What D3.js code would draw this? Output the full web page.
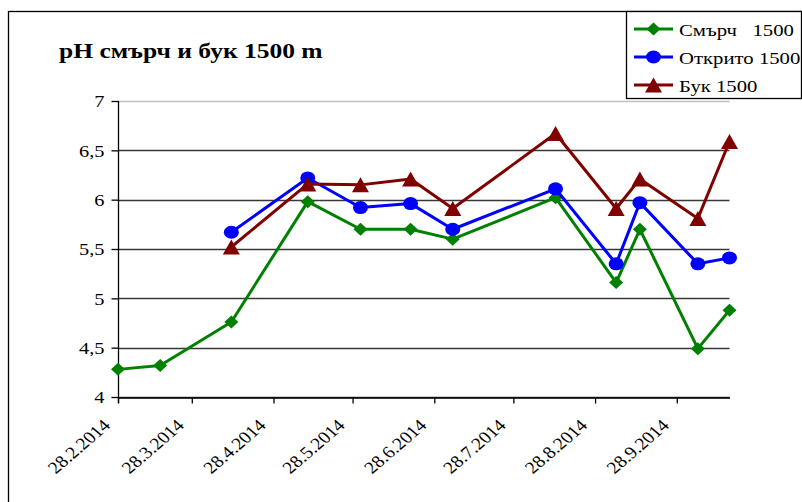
<!DOCTYPE html>
<html>
<head>
<meta charset="utf-8">
<script src="https://cdn.jsdelivr.net/npm/d3@7"></script>
<style>
body { margin: 0; background: #fff; }
text { font-family: "Times New Roman", Times, serif; fill: #000; }
</style>
</head>
<body>
<div id="chart"></div>
<script>
var dates = ["2014-02-28", "2014-03-16", "2014-04-12", "2014-05-11", "2014-05-31", "2014-06-19",
             "2014-07-05", "2014-08-13", "2014-09-05", "2014-09-14", "2014-10-06", "2014-10-18"];
var smarch = [4.28, 4.32, 4.76, 5.98, 5.70, 5.70, 5.60, 6.02, 5.16, 5.70, 4.49, 4.88];
var otkrito = [null, null, 5.67, 6.22, 5.92, 5.96, 5.70, 6.11, 5.35, 5.97, 5.35, 5.41];
var buk = [null, null, 5.52, 6.16, 6.15, 6.21, 5.91, 6.67, 5.91, 6.21, 5.81, 6.59];
var seriesNames = ["Смърч   1500", "Открито 1500", "Бук 1500"];
var tickDates = ["2014-02-28", "2014-03-28", "2014-04-28", "2014-05-28",
                 "2014-06-28", "2014-07-28", "2014-08-28", "2014-09-28"];
var yTicks = [4, 4.5, 5, 5.5, 6, 6.5, 7];
var title = "pH смърч и бук 1500 m";

var width = 802, height = 502,
    plot = {left: 118, right: 729.5, top: 101, bottom: 397},
    stretch = 1.2,   // the original picture is a bit wider than tall, text looks stretched
    font = "'Times New Roman', Times, serif";

var parse = d3.utcParse("%Y-%m-%d");

var svg = d3.select("#chart")
    .append("svg")
    .attr("width", width)
    .attr("height", height);

// outer chart frame (runs off the right and bottom edge)
svg.append("rect")
    .attr("x", 8.5).attr("y", 11.5)
    .attr("width", 900).attr("height", 600)
    .attr("fill", "#fff")
    .attr("stroke", "#000")
    .attr("stroke-width", 1.3);

var x = d3.scaleUtc()
    .domain([parse(dates[0]), parse(dates[dates.length - 1])])
    .range([plot.left, plot.right]);

var y = d3.scaleLinear()
    .domain([4, 7])
    .range([plot.bottom, plot.top]);

var fmtY = function (d) { return String(d).replace(".", ","); };

// gridlines
svg.append("g")
    .selectAll("line")
    .data(yTicks)
    .enter().append("line")
    .attr("x1", plot.left).attr("x2", plot.right)
    .attr("y1", function (d) { return Math.round(y(d)) + 0.5; })
    .attr("y2", function (d) { return Math.round(y(d)) + 0.5; })
    .attr("stroke", function (d) { return d === 7 ? "#c0c0c0" : "#383838"; })
    .attr("stroke-width", 1.6);

// y axis
var yAxis = svg.append("g")
    .attr("transform", "translate(" + (plot.left + 0.5) + ",0)")
    .call(d3.axisLeft(y).tickValues(yTicks).tickSize(7).tickSizeOuter(0).tickFormat(fmtY));
yAxis.select(".domain").attr("stroke", "#000").attr("stroke-width", 1.3)
    .attr("d", "M0," + plot.top + "V" + (plot.bottom + 6));
yAxis.selectAll(".tick line").attr("stroke", "#000").attr("stroke-width", 1.3);
yAxis.selectAll(".tick text")
    .attr("x", null).attr("dy", "0.34em")
    .attr("transform", "translate(-14,0) scale(" + stretch + ",1)")
    .style("font-family", font)
    .style("font-size", "17px");

// x axis
var xAxis = svg.append("g")
    .attr("transform", "translate(0," + (plot.bottom + 0.5) + ")")
    .call(d3.axisBottom(x).tickValues(tickDates.map(parse)).tickSize(6).tickSizeOuter(0)
        .tickFormat(d3.utcFormat("%-d.%-m.%Y")));
xAxis.select(".domain").attr("stroke", "#000").attr("stroke-width", 1.3);
xAxis.selectAll(".tick line").attr("stroke", "#000").attr("stroke-width", 1.3);
xAxis.selectAll(".tick text")
    .attr("y", null).attr("dy", null)
    .attr("text-anchor", "end")
    .attr("transform", "translate(-7,29) scale(1.16,1) rotate(-45)")
    .style("font-family", font)
    .style("font-size", "17px");

// series
var markers = {
    diamond: "M0,-6.5L7,0L0,6.5L-7,0Z",
    triangle: "M0,-7.5L8.5,7.5L-8.5,7.5Z"
};
var series = [
    {name: seriesNames[0], values: smarch, color: "#008000", marker: "diamond"},
    {name: seriesNames[1], values: otkrito, color: "#0000ff", marker: "circle"},
    {name: seriesNames[2], values: buk, color: "#800000", marker: "triangle"}
];

function drawMarker(g, kind, color) {
    if (kind === "circle") {
        g.append("ellipse").attr("rx", 7.5).attr("ry", 6.5).attr("fill", color);
    } else {
        g.append("path").attr("d", markers[kind]).attr("fill", color);
    }
}

var line = d3.line()
    .defined(function (d) { return d.v !== null; })
    .x(function (d) { return x(d.date); })
    .y(function (d) { return y(d.v); });

series.forEach(function (s) {
    var pts = s.values.map(function (v, i) { return {date: parse(dates[i]), v: v}; });
    var g = svg.append("g");
    g.append("path")
        .datum(pts)
        .attr("d", line)
        .attr("fill", "none")
        .attr("stroke", s.color)
        .attr("stroke-width", 3)
        .attr("stroke-linejoin", "round");
    g.selectAll("g.pt")
        .data(pts.filter(function (d) { return d.v !== null; }))
        .enter().append("g")
        .attr("class", "pt")
        .attr("transform", function (d) { return "translate(" + x(d.date) + "," + y(d.v) + ")"; })
        .each(function () { drawMarker(d3.select(this), s.marker, s.color); });
});

// title
svg.append("text")
    .attr("transform", "translate(59,58) scale(1.16,1)")
    .style("font-size", "22px")
    .style("font-weight", "bold")
    .text(title);

// legend
var legend = svg.append("g");
legend.append("rect")
    .attr("x", 626.5).attr("y", 11.5)
    .attr("width", 175).attr("height", 87)
    .attr("fill", "#fff")
    .attr("stroke", "#000")
    .attr("stroke-width", 1.3);

var items = legend.selectAll("g.item")
    .data(series)
    .enter().append("g")
    .attr("class", "item")
    .attr("transform", function (d, i) { return "translate(0," + (29 + i * 28) + ")"; });
items.append("line")
    .attr("x1", 634).attr("x2", 673)
    .attr("stroke", function (d) { return d.color; })
    .attr("stroke-width", 3);
items.append("g")
    .attr("transform", "translate(653.5,0)")
    .each(function (d) { drawMarker(d3.select(this), d.marker, d.color); });
items.append("text")
    .attr("xml:space", "preserve")
    .attr("transform", "translate(679,7) scale(1.22,1)")
    .style("font-size", "17px")
    .style("white-space", "pre")
    .text(function (d) { return d.name; });
</script>
</body>
</html>
